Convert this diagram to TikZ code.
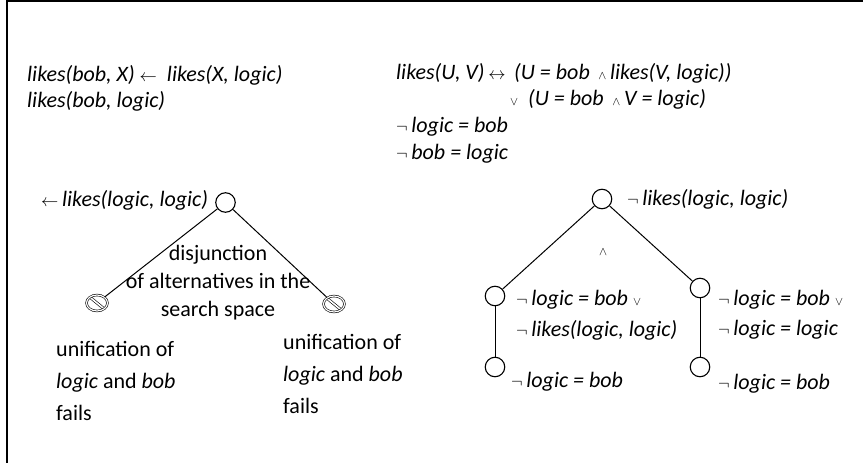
\documentclass[tikz,border=0pt]{standalone}
\usepackage{fontspec}
\setmainfont{Carlito}
\usetikzlibrary{shapes.geometric}

% small logical connectives set between the italic words
\newcommand{\sneg}{{\fontsize{16}{16}\selectfont$\neg$}}
\newcommand{\sand}{{\fontsize{13}{13}\selectfont$\wedge$}}
\newcommand{\sor}{{\fontsize{13}{13}\selectfont$\vee$}}
\newcommand{\sleft}{{\fontsize{19}{19}\selectfont$\leftarrow$}}
\newcommand{\siff}{{\fontsize{19}{19}\selectfont$\leftrightarrow$}}

\tikzset{
  txt/.style={inner sep=0pt, font=\fontsize{22}{32}\selectfont, align=left},
  formula/.style={txt, font=\fontsize{22}{32}\selectfont\itshape},
  goal/.style={circle, draw, line width=1.1pt, minimum size=19.5pt, inner sep=0pt},
  failnode/.style={ellipse, draw, double, line width=0.6pt, double distance=1.2pt,
    minimum width=21pt, minimum height=16pt, inner sep=0pt,
    path picture={\draw[double, line width=0.6pt, double distance=1.6pt]
      ([xshift=2pt,yshift=-1pt]path picture bounding box.north west) --
      ([xshift=-2pt,yshift=1pt]path picture bounding box.south east);}},
  edge/.style={line width=1pt},
  frame/.style={line width=2.4pt}
}

\begin{document}
\begin{tikzpicture}[x=1pt, y=-1pt]
\useasboundingbox (0,0) rectangle (863,463);

% frame on the top and on the left
\coordinate (fb) at (7,463);
\coordinate (fc) at (7,1.2);
\coordinate (fe) at (863,1.2);
\draw[frame] (fb) -- (fc) -- (fe);

% the program
\node[formula, anchor=west] (p1) at (27,75) {likes(bob, X) \sleft\ \ likes(X, logic)};
\node[formula, anchor=west] (p2) at (27,101) {likes(bob, logic)};

% its completion
\node[formula, anchor=west] (c1) at (396,73) {likes(U, V)\,\siff\ \,(U = bob \,\sand\,likes(V, logic))};
\node[formula, anchor=west] (c2) at (510,99) {\sor\ \ (U = bob \,\sand\,V = logic)};
\node[formula, anchor=west] (c3) at (396,127) {\sneg\,logic = bob};
\node[formula, anchor=west] (c4) at (396,154) {\sneg\,bob = logic};

% search space of the goal
\node[formula, anchor=west] (g) at (41,200) {\sleft\,likes(logic, logic)};
\node[goal] (lr) at (225.5,202.5) {};
\node[failnode] (lf1) at (97,303) {};
\node[failnode] (lf2) at (334,304) {};
\draw[edge] (lr) -- (lf1);
\draw[edge] (lr) -- (lf2);
\node[txt, align=center, font=\fontsize{22}{28}\selectfont] (dis) at (218,283) {disjunction\\of alternatives in the\\search space};
\node[txt, anchor=north west] (u1) at (56,341) {unification of\\\textit{logic} and \textit{bob}\\fails};
\node[txt, anchor=north west] (u2) at (283,334) {unification of\\\textit{logic} and \textit{bob}\\fails};

% search space of the negated goal
\node[goal] (rr) at (602,199) {};
\node[formula, anchor=west] (rt) at (627,199) {\sneg\,likes(logic, logic)};
\node[txt] (conj) at (603,252) {\sand};
\node[goal] (ra) at (495,296) {};
\node[goal] (rb) at (700,288) {};
\node[goal] (ra2) at (495,367) {};
\node[goal] (rb2) at (700,367) {};
\draw[edge] (rr) -- (ra);
\draw[edge] (rr) -- (rb);
\draw[edge] (ra) -- (ra2);
\draw[edge] (rb) -- (rb2);
\node[formula, anchor=west] (ta1) at (516,300) {\sneg\,logic = bob \sor};
\node[formula, anchor=west] (ta2) at (516,330) {\sneg\,likes(logic, logic)};
\node[formula, anchor=west] (ta3) at (511,382) {\sneg\,logic = bob};
\node[formula, anchor=west] (tb1) at (718,300) {\sneg\,logic = bob \sor};
\node[formula, anchor=west] (tb2) at (718,330) {\sneg\,logic = logic};
\node[formula, anchor=west] (tb3) at (718,384) {\sneg\,logic = bob};
\end{tikzpicture}
\end{document}
